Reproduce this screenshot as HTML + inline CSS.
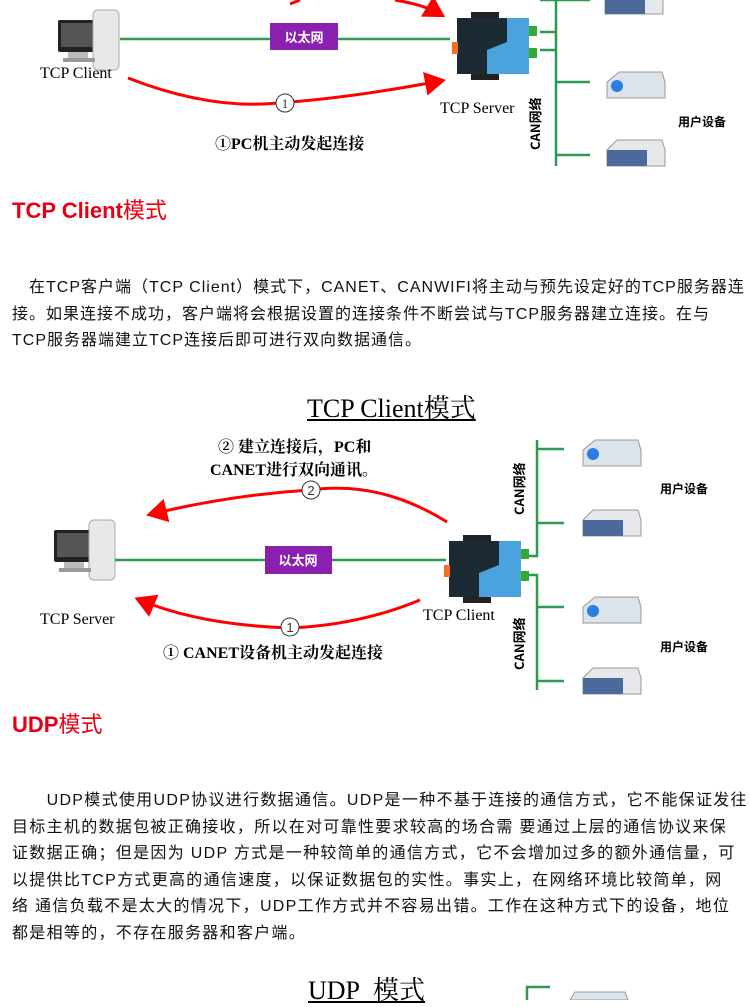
<!DOCTYPE html>
<html><head><meta charset="utf-8"><style>
body{margin:0;width:750px;height:1000px;background:#fff;position:relative;overflow:hidden;font-family:"Liberation Sans","Noto Sans CJK SC",sans-serif}
.a{position:absolute;white-space:nowrap}
.h{color:#e60012;font-weight:bold;font-size:22px}
.p{font-size:16px;color:#111;line-height:26.5px}
.s{font-family:"Liberation Serif","Noto Serif CJK SC",serif}
</style></head><body>
<svg class="a" style="left:0;top:0" width="750" height="1000">
<defs>
<marker id="ar" markerWidth="8" markerHeight="8" refX="5" refY="4" orient="auto" markerUnits="strokeWidth"><path d="M0,0 L7,4 L0,8 z" fill="#f00"/></marker>
<g id="pc"><rect x="0" y="10" width="38" height="32" fill="#222" rx="2"/><rect x="3" y="13" width="32" height="24" fill="#555"/><rect x="10" y="42" width="20" height="6" fill="#bbb"/><rect x="35" y="0" width="26" height="60" rx="5" fill="#e8e8e8" stroke="#aaa"/><rect x="5" y="48" width="32" height="4" fill="#999"/></g>
<g id="dev"><rect x="14" y="0" width="28" height="10" fill="#222"/><rect x="14" y="58" width="28" height="10" fill="#222"/><rect x="0" y="6" width="72" height="56" fill="#1c2a34"/><path d="M30,62 L30,38 L50,30 L50,6 L72,6 L72,62z" fill="#4ba3dd"/><rect x="-5" y="30" width="6" height="12" fill="#f07020"/><rect x="72" y="14" width="8" height="10" fill="#3a3"/><rect x="72" y="36" width="8" height="10" fill="#3a3"/></g>
<g id="proj"><path d="M0,10 L12,0 L55,0 L58,10 L58,26 L0,26z" fill="#dde3ea" stroke="#999"/><circle cx="10" cy="14" r="6" fill="#2a7de1"/></g>
<g id="rt"><path d="M0,10 L10,0 L55,0 L58,10 L58,26 L0,26z" fill="#e6e8ec" stroke="#999"/><rect x="0" y="10" width="40" height="16" fill="#4a6a9a"/></g>
</defs>
<path d="M395,0 Q425,5 440,14" stroke="#f00" stroke-width="3" fill="none" marker-end="url(#ar)"/>
<path d="M300,0 L290,4" stroke="#f00" stroke-width="3"/>
<use href="#pc" x="58" y="10"/>
<line x1="120" y1="39" x2="450" y2="39" stroke="#2a9a50" stroke-width="2.5"/>
<rect x="270" y="23" width="68" height="27" fill="#8b1fb0"/>
<text x="304" y="42" font-size="13" font-weight="bold" fill="#fff" text-anchor="middle" font-family="Noto Sans CJK SC">以太网</text>
<use href="#dev" x="457" y="12"/>
<path d="M556,0 V166 M540,32 H556 M540,50 H556 M556,82 H590 M556,155 H590 M540,0 H590" stroke="#2a9a50" stroke-width="2.5" fill="none"/>
<use href="#rt" x="605" y="-12"/><use href="#proj" x="607" y="72"/><use href="#rt" x="607" y="140"/>
<path d="M128,78 Q210,110 278,103 Q350,98 440,81" stroke="#f00" stroke-width="3" fill="none" marker-end="url(#ar)"/>
<circle cx="285" cy="103" r="9" fill="#fff" stroke="#333"/>
<text x="285" y="108" font-size="13" text-anchor="middle" fill="#333" class="s">1</text>
<text x="540" y="150" font-size="13" font-weight="bold" transform="rotate(-90 540 150)" font-family="Noto Sans CJK SC">CAN网络</text>
<path d="M447,522 Q380,480 310,490 Q230,495 152,514" stroke="#f00" stroke-width="3" fill="none" marker-end="url(#ar)"/>
<circle cx="311" cy="490" r="9" fill="#fff" stroke="#333"/>
<text x="311" y="495" font-size="13" text-anchor="middle" fill="#333">2</text>
<path d="M420,600 Q360,625 290,628 Q200,625 140,600" stroke="#f00" stroke-width="3" fill="none" marker-end="url(#ar)"/>
<circle cx="290" cy="627" r="9" fill="#fff" stroke="#333"/>
<text x="290" y="632" font-size="13" text-anchor="middle" fill="#333">1</text>
<use href="#pc" x="54" y="520"/>
<line x1="115" y1="560" x2="446" y2="560" stroke="#2a9a50" stroke-width="2.5"/>
<rect x="265" y="546" width="67" height="28" fill="#8b1fb0"/>
<text x="298" y="565" font-size="13" font-weight="bold" fill="#fff" text-anchor="middle" font-family="Noto Sans CJK SC">以太网</text>
<use href="#dev" x="449" y="535"/>
<path d="M537,440 V556 H528 M537,449 H564 M537,523 H564 M528,575 H537 V690 M537,607 H564 M537,681 H564" stroke="#2a9a50" stroke-width="2.5" fill="none"/>
<use href="#proj" x="583" y="440"/><use href="#rt" x="583" y="510"/><use href="#proj" x="583" y="597"/><use href="#rt" x="583" y="668"/>
<text x="524" y="515" font-size="13" font-weight="bold" transform="rotate(-90 524 515)" font-family="Noto Sans CJK SC">CAN网络</text>
<text x="524" y="670" font-size="13" font-weight="bold" transform="rotate(-90 524 670)" font-family="Noto Sans CJK SC">CAN网络</text>
<path d="M527,1000 V987 H550" stroke="#2a9a50" stroke-width="2.5" fill="none"/>
<path d="M570,1000 L575,992 L625,992 L628,1000z" fill="#dde3ea" stroke="#999"/>
</svg>
<div class="a s" style="left:40px;top:65px;font-size:16px">TCP Client</div>
<div class="a s" style="left:440px;top:100px;font-size:16px">TCP Server</div>
<div class="a" style="left:678px;top:113px;font-size:12px;font-weight:bold">用户设备</div>
<div class="a s" style="left:215px;top:131px;font-size:16px;font-weight:bold">①PC机主动发起连接</div>
<div class="a h" style="left:12px;top:193px">TCP Client<span style="font-weight:normal;font-family:'Noto Sans CJK SC'">模式</span></div>
<div class="a p" style="left:12px;top:275px;letter-spacing:1.0px">　在TCP客户端（TCP Client）模式下，CANET、CANWIFI将主动与预先设定好的TCP服务器连<br>接。如果连接不成功，客户端将会根据设置的连接条件不断尝试与TCP服务器建立连接。在与<br>TCP服务器端建立TCP连接后即可进行双向数据通信。</div>
<div class="a s" style="left:307px;top:388px;font-size:26px;text-decoration:underline">TCP Client模式</div>
<div class="a s" style="left:218px;top:434px;font-size:16px;font-weight:bold">② 建立连接后，PC和</div>
<div class="a s" style="left:210px;top:457px;font-size:16px;font-weight:bold">CANET进行双向通讯。</div>
<div class="a" style="left:660px;top:480px;font-size:12px;font-weight:bold">用户设备</div>
<div class="a" style="left:660px;top:638px;font-size:12px;font-weight:bold">用户设备</div>
<div class="a s" style="left:40px;top:611px;font-size:16px">TCP Server</div>
<div class="a s" style="left:423px;top:607px;font-size:16px">TCP Client</div>
<div class="a s" style="left:163px;top:640px;font-size:16px;font-weight:bold">① CANET设备机主动发起连接</div>
<div class="a h" style="left:12px;top:707px">UDP<span style="font-weight:normal;font-family:'Noto Sans CJK SC'">模式</span></div>
<div class="a p" style="left:12px;top:788px;letter-spacing:1.3px">　　UDP模式使用UDP协议进行数据通信。UDP是一种不基于连接的通信方式，它不能保证发往<br>目标主机的数据包被正确接收，所以在对可靠性要求较高的场合需 要通过上层的通信协议来保<br>证数据正确；但是因为 UDP 方式是一种较简单的通信方式，它不会增加过多的额外通信量，可<br>以提供比TCP方式更高的通信速度，以保证数据包的实性。事实上，在网络环境比较简单，网<br>络 通信负载不是太大的情况下，UDP工作方式并不容易出错。工作在这种方式下的设备，地位<br>都是相等的，不存在服务器和客户端。</div>
<div class="a s" style="left:308px;top:970px;font-size:26px;text-decoration:underline">UDP&nbsp; 模式</div>
</body></html>
